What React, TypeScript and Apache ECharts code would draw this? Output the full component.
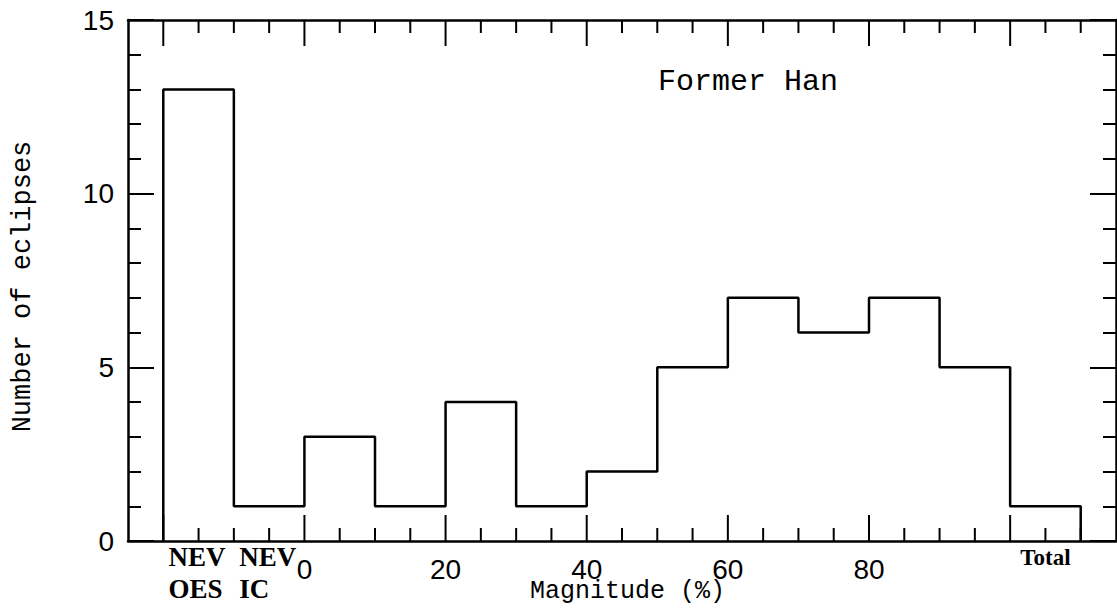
import React, { useEffect, useRef } from "react";
import * as echarts from "echarts";

// Histogram bins (edges in magnitude %, first two bins are the NEV categories, last is Total)
const binEdges = [-20, -10, 0, 10, 20, 30, 40, 50, 60, 70, 80, 90, 100, 110];
const counts = [13, 1, 3, 1, 4, 1, 2, 5, 7, 6, 7, 5, 1];
const specialLabels = ["NEV\nOES", "NEV\nIC", "Total"];
const specialBinIndex = [0, 1, 12];

const xTickLabels = [0, 20, 40, 60, 80];
const xMajorTicks = [-20, 0, 20, 40, 60, 80, 100];
const xMinorTicks = [-15, -10, -5, 5, 10, 15, 25, 30, 35, 45, 50, 55, 65, 70, 75, 85, 90, 95, 105, 110];
const yTickLabels = [0, 5, 10, 15];

const X_MIN = -25;
const X_MAX = 115;
const Y_MIN = 0;
const Y_MAX = 15;

export default function App() {
  const ref = useRef<HTMLDivElement>(null);
  useEffect(() => {
    if (!ref.current) return;
    const chart = echarts.init(ref.current, undefined, { renderer: "svg" });

    const outline: number[][] = [[binEdges[0], 0]];
    counts.forEach((c, i) => {
      outline.push([binEdges[i], c]);
      outline.push([binEdges[i + 1], c]);
    });
    outline.push([binEdges[binEdges.length - 1], 0]);

    const specialPos = specialBinIndex.map((i) => (binEdges[i] + binEdges[i + 1]) / 2);

    // tick marks for bottom (side 0) and top (side 1) of the frame: [value, side, major?]
    const xTickData: number[][] = [];
    [0, 1].forEach((side) => {
      xMinorTicks.forEach((v) => xTickData.push([v, side, 0]));
      xMajorTicks.forEach((v) => xTickData.push([v, side, 1]));
    });

    const black = "#000";
    const lineStyle = { color: black, width: 2.5 };
    const tickStyle = { color: black, width: 2 };

    const xBase = {
      type: "value",
      min: X_MIN,
      max: X_MAX,
      splitLine: { show: false },
    };
    const yBase = {
      type: "value",
      min: Y_MIN,
      max: Y_MAX,
      splitLine: { show: false },
    };

    const option: any = {
      animation: false,
      backgroundColor: "#fff",
      title: [
        {
          text: "Former Han",
          left: 658,
          top: 67,
          padding: 0,
          textStyle: {
            fontFamily: "Liberation Mono",
            fontSize: 30,
            fontWeight: "normal",
            color: black,
          },
        },
        {
          text: "Magnitude (%)",
          left: 530,
          top: 579,
          padding: 0,
          textStyle: {
            fontFamily: "Liberation Mono",
            fontSize: 25,
            fontWeight: "normal",
            color: black,
          },
        },
      ],
      grid: { left: 128, right: 1, top: 20, bottom: 67, containLabel: false, outerBoundsMode: "none" },
      xAxis: [
        {
          ...xBase,
          position: "bottom",
          axisLine: { show: true, onZero: false, lineStyle },
          axisTick: { show: false },
          axisLabel: {
            show: true,
            customValues: xTickLabels,
            fontFamily: "Liberation Sans",
            fontSize: 28,
            color: black,
            margin: 14,
          },
        },
        {
          ...xBase,
          position: "bottom",
          axisLine: { show: false, onZero: false },
          axisTick: { show: false },
          axisLabel: {
            show: true,
            customValues: specialPos,
            margin: 0,
            formatter: (v: number) => {
              const k = specialPos.indexOf(v);
              if (k < 0) return "";
              const style = k === 2 ? "t" : "n";
              return specialLabels[k]
                .split("\n")
                .map((s) => `{${style}|${s}}`)
                .join("\n");
            },
            rich: {
              n: {
                fontFamily: "Liberation Serif",
                fontWeight: "bold",
                fontSize: 27,
                lineHeight: 32,
                width: 60,
                align: "left",
                color: black,
              },
              t: {
                fontFamily: "Liberation Serif",
                fontWeight: "bold",
                fontSize: 23,
                lineHeight: 32,
                color: black,
              },
            },
          },
        },
        {
          ...xBase,
          position: "top",
          axisLine: { show: true, onZero: false, lineStyle },
          axisTick: { show: false },
          axisLabel: { show: false },
        },
      ],
      yAxis: [
        {
          ...yBase,
          position: "left",
          interval: 5,
          axisLine: { show: true, onZero: false, lineStyle },
          axisTick: { show: true, inside: true, length: 26, lineStyle: tickStyle },
          axisLabel: {
            show: true,
            customValues: yTickLabels,
            fontFamily: "Liberation Sans",
            fontSize: 28,
            color: black,
            margin: 14,
          },
          name: "Number of eclipses",
          nameLocation: "middle",
          nameGap: 92,
          nameRotate: 90,
          nameTextStyle: { fontFamily: "Liberation Mono", fontSize: 27, color: black, padding: [0, 12, 0, 0] },
        },
        {
          ...yBase,
          position: "left",
          interval: 1,
          axisLine: { show: false, onZero: false },
          axisTick: { show: true, inside: true, length: 13, lineStyle: tickStyle },
          axisLabel: { show: false },
        },
        {
          ...yBase,
          position: "right",
          interval: 5,
          axisLine: { show: true, onZero: false, lineStyle },
          axisTick: { show: true, inside: true, length: 26, lineStyle: tickStyle },
          axisLabel: { show: false },
        },
        {
          ...yBase,
          position: "right",
          interval: 1,
          axisLine: { show: false, onZero: false },
          axisTick: { show: true, inside: true, length: 13, lineStyle: tickStyle },
          axisLabel: { show: false },
        },
      ],
      series: [
        {
          type: "custom",
          xAxisIndex: 0,
          yAxisIndex: 0,
          clip: false,
          silent: true,
          data: xTickData,
          renderItem: (params: any, api: any) => {
            const v = api.value(0);
            const side = api.value(1);
            const major = api.value(2);
            const base = api.coord([v, side ? Y_MAX : Y_MIN]);
            const len = major ? 26 : 13;
            const dir = side ? 1 : -1;
            return {
              type: "line",
              shape: { x1: base[0], y1: base[1], x2: base[0], y2: base[1] + dir * len },
              style: { stroke: black, lineWidth: 2 },
            };
          },
        },
        {
          type: "line",
          xAxisIndex: 0,
          yAxisIndex: 0,
          data: outline,
          showSymbol: false,
          symbol: "none",
          clip: false,
          lineStyle: { color: black, width: 2.5 },
        },
      ],
    };

    chart.setOption(option);
    return () => chart.dispose();
  }, []);

  return <div ref={ref} style={{ width: 1117, height: 608, position: "absolute", left: 0, top: 0 }} />;
}
